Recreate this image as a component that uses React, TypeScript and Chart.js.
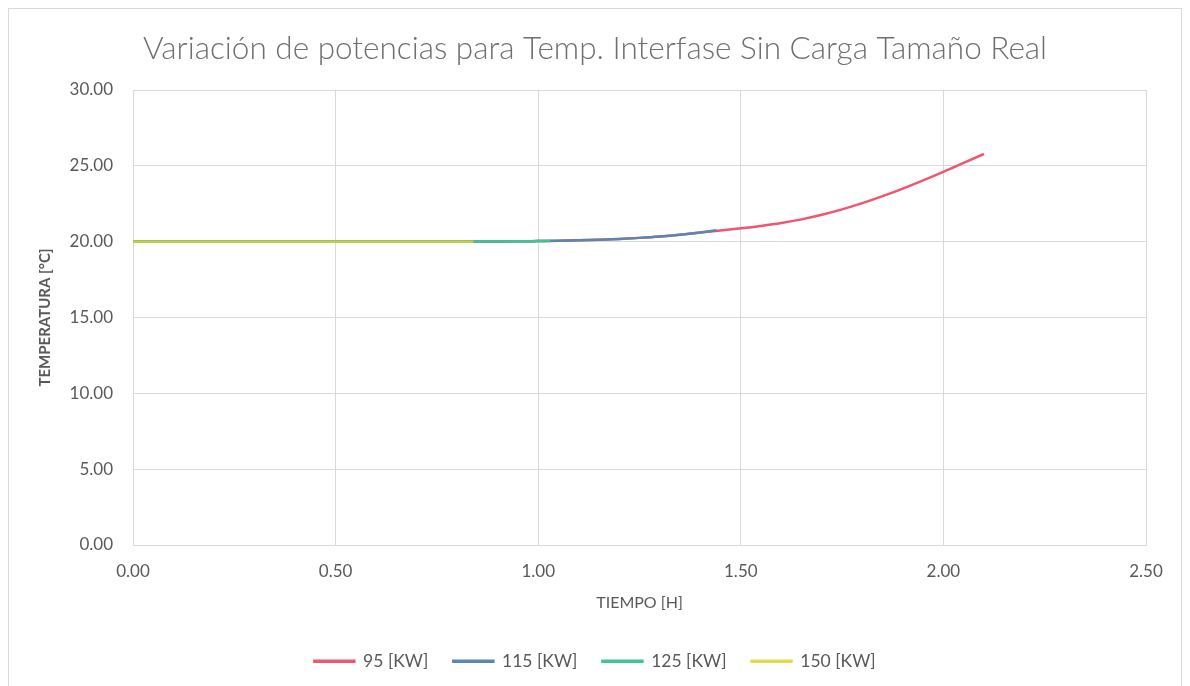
import { useEffect, useRef } from "react";
import { Chart, registerables } from "chart.js";

Chart.register(...registerables);

// Interface temperature (°C) over time (h) for each heater power
const time95 = [0, 0.1, 0.2, 0.3, 0.4, 0.5, 0.6, 0.7, 0.8, 0.9, 0.95, 1.0, 1.05, 1.1, 1.15, 1.2, 1.25, 1.3, 1.35, 1.4, 1.45, 1.5, 1.55, 1.6, 1.65, 1.7, 1.75, 1.8, 1.85, 1.9, 1.95, 2.0, 2.05, 2.1];
const temp95 = [20, 20, 20, 20, 20, 20, 20, 20, 20, 20.01, 20.02, 20.04, 20.06, 20.09, 20.13, 20.18, 20.25, 20.34, 20.46, 20.6, 20.74, 20.88, 21.04, 21.23, 21.47, 21.77, 22.13, 22.54, 23.0, 23.5, 24.04, 24.6, 25.19, 25.78];

const time115 = [0, 0.1, 0.2, 0.3, 0.4, 0.5, 0.6, 0.7, 0.8, 0.9, 0.95, 1.0, 1.05, 1.1, 1.15, 1.2, 1.25, 1.3, 1.35, 1.4, 1.44];
const temp115 = [20, 20, 20, 20, 20, 20, 20, 20, 20, 20.01, 20.02, 20.04, 20.06, 20.09, 20.13, 20.18, 20.25, 20.34, 20.46, 20.61, 20.75];

const time125 = [0, 0.1, 0.2, 0.3, 0.4, 0.5, 0.6, 0.7, 0.8, 0.9, 0.95, 1.0, 1.03];
const temp125 = [20, 20, 20, 20, 20, 20, 20, 20, 20, 20.01, 20.02, 20.04, 20.05];

const time150 = [0, 0.1, 0.2, 0.3, 0.4, 0.5, 0.6, 0.7, 0.8, 0.84];
const temp150 = [20, 20, 20, 20, 20, 20, 20, 20, 20, 20];

const seriesLabels = ["95 [KW]", "115 [KW]", "125 [KW]", "150 [KW]"];
const seriesColors = ["#F0566E", "#5A86B3", "#3EC591", "rgba(222, 212, 40, 0.8)"];

const xTicks = [0, 0.5, 1.0, 1.5, 2.0, 2.5];
const yTicks = [0, 5, 10, 15, 20, 25, 30];

const FONT = "Lato, 'Open Sans', sans-serif";
const TEXT = "#595959";
const TITLE = "#6f6f6f";
const GRID = "#d9d9d9";

const toPoints = (xs: number[], ys: number[]) => xs.map((x, i) => ({ x, y: ys[i] }));

export default function App() {
  const canvasRef = useRef<HTMLCanvasElement>(null);

  useEffect(() => {
    const canvas = canvasRef.current;
    if (!canvas) return;
    const series = [
      toPoints(time95, temp95),
      toPoints(time115, temp115),
      toPoints(time125, temp125),
      toPoints(time150, temp150),
    ];
    const chart = new Chart(canvas, {
      type: "line",
      data: {
        datasets: series.map((pts, i) => ({
          label: seriesLabels[i],
          data: pts,
          borderColor: seriesColors[i],
          backgroundColor: seriesColors[i],
          borderWidth: 2.5,
          pointRadius: 0,
          cubicInterpolationMode: "monotone" as const,
          fill: false,
          // later powers are painted over earlier ones
          order: 3 - i,
        })),
      },
      options: {
        animation: false,
        responsive: false,
        maintainAspectRatio: false,
        layout: { padding: { left: 0, right: 0, top: 0, bottom: 17 } },
        plugins: {
          tooltip: { enabled: false },
          title: {
            display: true,
            text: "Variación de potencias para Temp. Interfase Sin Carga Tamaño Real",
            color: TITLE,
            font: { family: FONT, size: 31.5, weight: 300 },
            padding: { top: 21, bottom: 22.2 },
          },
          legend: {
            position: "bottom",
            labels: {
              color: TEXT,
              font: { family: FONT, size: 17.5 },
              boxWidth: 40,
              boxHeight: 1,
              padding: 25,
              sort: (a, b) => (a.datasetIndex ?? 0) - (b.datasetIndex ?? 0),
            },
          },
        },
        scales: {
          x: {
            type: "linear",
            min: 0,
            max: 2.5,
            afterBuildTicks: (scale) => {
              scale.ticks = xTicks.map((v) => ({ value: v }));
            },
            afterFit: (scale) => {
              scale.height = 82.5;
            },
            ticks: {
              color: TEXT,
              font: { family: FONT, size: 17 },
              padding: 16,
              maxRotation: 0,
              callback: (v) => Number(v).toFixed(2),
            },
            grid: { color: GRID, drawTicks: false },
            border: { color: GRID },
            title: {
              display: true,
              text: "TIEMPO [H]",
              color: TEXT,
              font: { family: FONT, size: 16 },
              padding: { top: 0, bottom: 15 },
            },
          },
          y: {
            min: 0,
            max: 30,
            afterBuildTicks: (scale) => {
              scale.ticks = yTicks.map((v) => ({ value: v }));
            },
            afterFit: (scale) => {
              scale.width = 124;
            },
            ticks: {
              color: TEXT,
              font: { family: FONT, size: 17 },
              padding: 20,
              callback: (v) => Number(v).toFixed(2),
            },
            grid: { color: GRID, drawTicks: false },
            border: { color: GRID },
            title: {
              display: true,
              text: "TEMPERATURA [°C]",
              color: TEXT,
              font: { family: FONT, size: 15, weight: "bold" },
              padding: { top: 27, bottom: 0 },
            },
          },
          // empty right-hand margin so the title and legend stay centred on the whole chart
          yRight: {
            position: "right",
            display: true,
            grid: { display: false },
            border: { display: false },
            ticks: { display: false },
            afterFit: (scale) => {
              scale.width = 35;
            },
          },
        },
      },
    });
    return () => chart.destroy();
  }, []);

  return (
    <div style={{ width: 1172, height: 688, border: `1px solid ${GRID}`, background: "#fff" }}>
      <canvas ref={canvasRef} width={1172} height={688} style={{ display: "block" }} />
    </div>
  );
}
